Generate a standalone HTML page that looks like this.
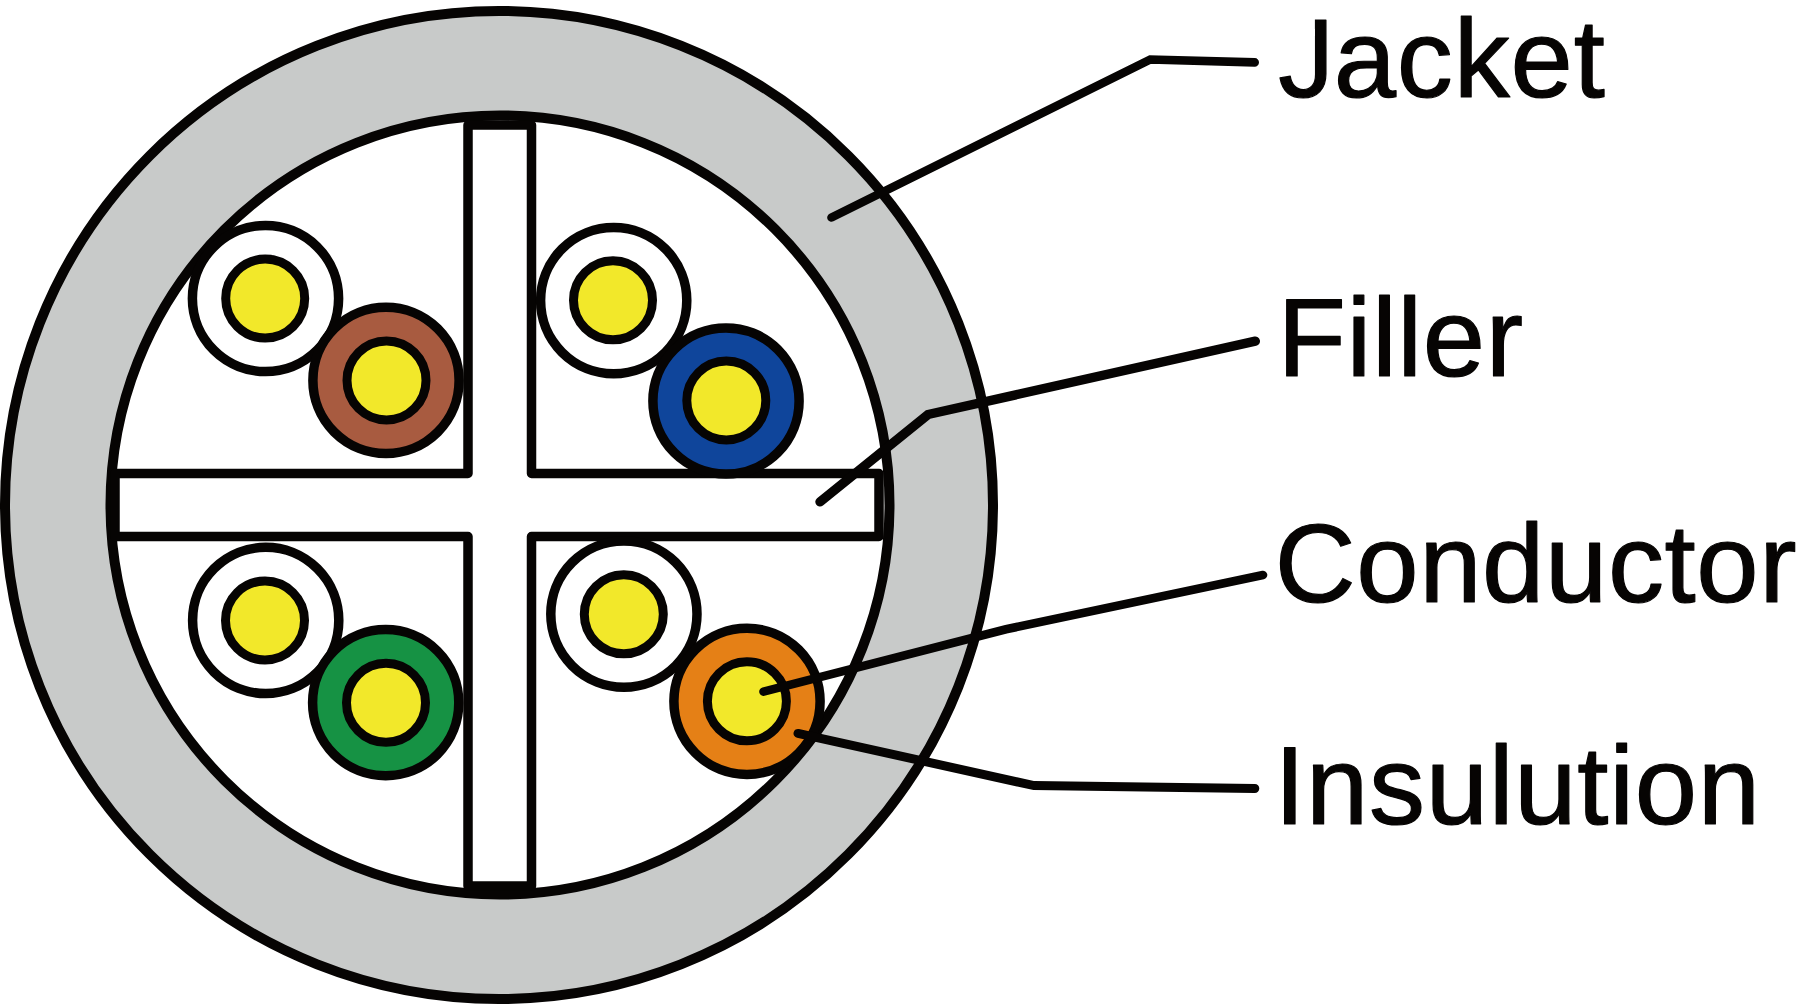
<!DOCTYPE html>
<html lang="en">
<head>
<meta charset="utf-8">
<title>Cable cross-section</title>
<style>
  html, body { margin: 0; padding: 0; background: #ffffff; }
  body { width: 1800px; height: 1005px; overflow: hidden; }
  svg { display: block; }
  .lbl { font-family: "Liberation Sans", Arial, Helvetica, sans-serif; font-size: 112px; fill: #060403; stroke: #060403; stroke-width: 1.2px; stroke-linejoin: round; }
</style>
</head>
<body>
<svg xmlns="http://www.w3.org/2000/svg" width="1800" height="1005" viewBox="0 0 1800 1005">
  <rect width="1800" height="1005" fill="#ffffff"/>

  <!-- Jacket -->
  <circle cx="499" cy="505" r="494" fill="#c8cac9" stroke="#060403" stroke-width="10"/>
  <circle cx="500" cy="505" r="389.5" fill="#ffffff" stroke="#060403" stroke-width="10"/>

  <!-- Filler cross -->
  <path d="M468 125 H531.5 V473.5 H879 V536.5 H531.5 V886 H468 V536.5 H115 V473.5 H468 Z"
        fill="#ffffff" stroke="#060403" stroke-width="9.5" stroke-linejoin="round"/>

  <!-- Pairs -->
  <g stroke="#060403" stroke-width="9">
    <!-- top-left -->
    <circle cx="265.5" cy="298.5" r="73.1" fill="#ffffff" stroke-width="9.5"/>
    <circle cx="265.2" cy="298.6" r="39.5" fill="#f2e82a"/>
    <circle cx="386" cy="380.4" r="73.1" fill="#a85b40" stroke-width="9.5"/>
    <circle cx="386.5" cy="380.4" r="39.5" fill="#f2e82a"/>
    <!-- top-right -->
    <circle cx="613.7" cy="300.6" r="73.1" fill="#ffffff" stroke-width="9.5"/>
    <circle cx="613" cy="300.3" r="39.5" fill="#f2e82a"/>
    <circle cx="726" cy="401" r="73.1" fill="#0f459b" stroke-width="9.5"/>
    <circle cx="726.3" cy="400.5" r="39.5" fill="#f2e82a"/>
    <!-- bottom-left -->
    <circle cx="265.7" cy="620.4" r="73.1" fill="#ffffff" stroke-width="9.5"/>
    <circle cx="265" cy="620.5" r="39.5" fill="#f2e82a"/>
    <circle cx="385.7" cy="702.7" r="73.1" fill="#169244" stroke-width="9.5"/>
    <circle cx="386" cy="702.8" r="39.5" fill="#f2e82a"/>
    <!-- bottom-right -->
    <circle cx="623.9" cy="614.1" r="73.1" fill="#ffffff" stroke-width="9.5"/>
    <circle cx="623.8" cy="614.3" r="39.5" fill="#f2e82a"/>
    <circle cx="747" cy="701.3" r="73.1" fill="#e58016" stroke-width="9.5"/>
    <circle cx="746.9" cy="701.3" r="39.5" fill="#f2e82a"/>
  </g>

  <!-- Leader lines -->
  <g fill="none" stroke="#060403" stroke-width="8.6" stroke-linecap="round" stroke-linejoin="miter">
    <polyline points="831.5,217.5 1150.3,59.5 1254.7,62.4"/>
    <polyline points="820,501.8 928,414.5 1255.3,341.2" stroke-width="9.4"/>
    <polyline points="763.5,691.6 1006,629.3 1263,575"/>
    <polyline points="798,733.4 1034,785.6 1254.8,788.5" stroke-width="9"/>
  </g>

  <!-- Labels -->
  <text class="lbl" x="1278.2" y="97" dx="0 -1.4" letter-spacing="0.85">Jacket</text>
  <!-- hide the top-left serif bar of the J glyph so it reads like a plain grotesque J -->
  <rect x="1288" y="8" width="26.9" height="28" fill="#ffffff"/>
  <text class="lbl" x="1277.4" y="376" letter-spacing="0.6">Filler</text>
  <text class="lbl" x="1274.8" y="602" letter-spacing="0.62">Conductor</text>
  <text class="lbl" x="1274.2" y="824" letter-spacing="0.72">Insulution</text>
</svg>
</body>
</html>
